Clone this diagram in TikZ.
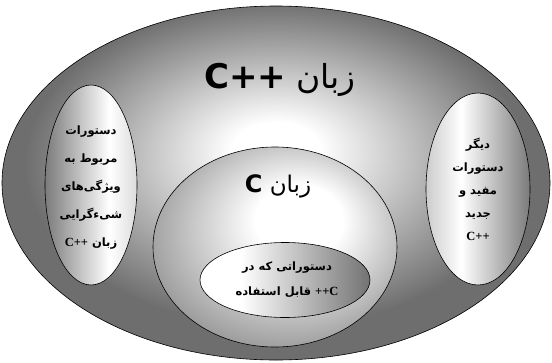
\documentclass[tikz,border=0pt]{standalone}
\usepackage{fontspec}
\usetikzlibrary{shapes.geometric}
\TeXXeTstate=1
\newfontfamily\fa[Script=Arabic]{DejaVu Sans}
\newfontfamily\latserif{Liberation Serif}
\newfontfamily\latsans{DejaVu Sans}
\definecolor{gOuter}{gray}{0.43}
\definecolor{gMid}{gray}{0.52}
\definecolor{gDark}{gray}{0.48}
\definecolor{gLight}{gray}{0.8}
\definecolor{gSoft}{gray}{0.86}
\definecolor{gInner}{gray}{0.45}
\pgfdeclareradialshading{outerG}{\pgfpoint{0bp}{5bp}}{color(0bp)=(white); color(4bp)=(white); color(23bp)=(gOuter); color(50bp)=(gOuter)}
\pgfdeclareradialshading{midG}{\pgfpoint{6bp}{8bp}}{color(0bp)=(white); color(9bp)=(white); color(34bp)=(gMid); color(50bp)=(gMid)}
\pgfdeclarehorizontalshading{leftG}{100bp}{color(0bp)=(gDark); color(25bp)=(gDark); color(60bp)=(white); color(75bp)=(gSoft); color(100bp)=(gSoft)}
\pgfdeclarehorizontalshading{rightG}{100bp}{color(0bp)=(gLight); color(25bp)=(gLight); color(42bp)=(white); color(75bp)=(gDark); color(100bp)=(gDark)}
\pgfdeclarehorizontalshading{innerG}{100bp}{color(0bp)=(white); color(25bp)=(white); color(37bp)=(white); color(75bp)=(gInner); color(100bp)=(gInner)}
\tikzset{
  ell/.style={ellipse, draw=black, line width=0.6pt, inner sep=0pt, shade},
  smalltxt/.style={align=center, font=\fa\bfseries\fontsize{11.5}{#1}\selectfont, inner sep=0pt},
}
\newcommand{\cpp}{{\latserif\bfseries\fontsize{12.5}{12.5}\selectfont C++}}
\begin{document}
\begin{tikzpicture}[x=1pt,y=-1pt]
\useasboundingbox (0,0) rectangle (552,362);
\node[ell, shading=outerG, minimum width=548pt, minimum height=354pt] (outer) at (276,183) {};
\node[ell, shading=leftG, minimum width=92pt, minimum height=200pt] (leftell) at (91,185) {};
\node[ell, shading=rightG, minimum width=104pt, minimum height=192pt] (rightell) at (478,189) {};
\node[ell, shading=midG, minimum width=244pt, minimum height=200pt] (midell) at (275,247) {};
\node[ell, shading=innerG, minimum width=170pt, minimum height=75pt] (innerell) at (285,280) {};
% titles
\node[inner sep=0pt] (title) at (280,80) {\fa\fontsize{33}{35}\selectfont\beginR زبان \beginL{\latsans\bfseries\fontsize{34}{35}\selectfont C++}\endL\endR};
\node[inner sep=0pt] (ctitle) at (278,186) {\fa\fontsize{23}{25}\selectfont\beginR زبان \beginL{\latsans\bfseries\fontsize{24}{25}\selectfont C}\endL\endR};
% texts
\node[smalltxt=28] (lefttxt) at (91,188) {\beginR دستورات\endR\\ \beginR مربوط به\endR\\ \beginR ویژگی‌های\endR\\ \beginR شیءگرایی\endR\\ \beginR زبان \beginL\cpp\endL\endR};
\node[smalltxt=23] (righttxt) at (478,189) {\beginR دیگر\endR\\ \beginR دستورات\endR\\ \beginR مفید و\endR\\ \beginR جدید\endR\\ \beginL\cpp\endL};
\node[smalltxt=25] (innertxt) at (287,280) {\beginR دستوراتی که در\endR\\ \beginR\beginL{\latserif\bfseries\fontsize{12.5}{12.5}\selectfont ++C}\endL{} قابل استفاده\endR};
\end{tikzpicture}
\end{document}
